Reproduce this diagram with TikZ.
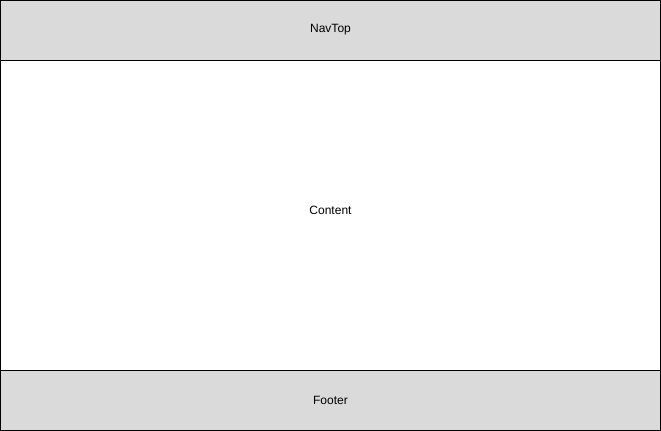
\documentclass[tikz,border=0pt]{standalone}
\usepackage{fontspec}
\setmainfont{Liberation Sans}
\definecolor{boxgray}{HTML}{DADADA}
\begin{document}
\begin{tikzpicture}[x=0.75pt,y=-0.75pt,
  band/.style={draw=black,line width=0.75pt,fill=boxgray,inner sep=0pt},
  body/.style={draw=black,line width=0.75pt,fill=white,inner sep=0pt},
  lbl/.style={font=\fontsize{9}{11}\selectfont,text=black}]
\useasboundingbox (0,0) rectangle (661,431);
\draw[band] (0.5,0.5) rectangle (660.5,60.5);
\draw[body] (0.5,60.5) rectangle (660.5,370.5);
\draw[band] (0.5,370.5) rectangle (660.5,430.5);
\node[lbl] (navtop) at (330.5,30) {NavTop};
\node[lbl] (content) at (330.5,210) {Content};
\node[lbl] (footer) at (330.5,400) {Footer};
\end{tikzpicture}
\end{document}
